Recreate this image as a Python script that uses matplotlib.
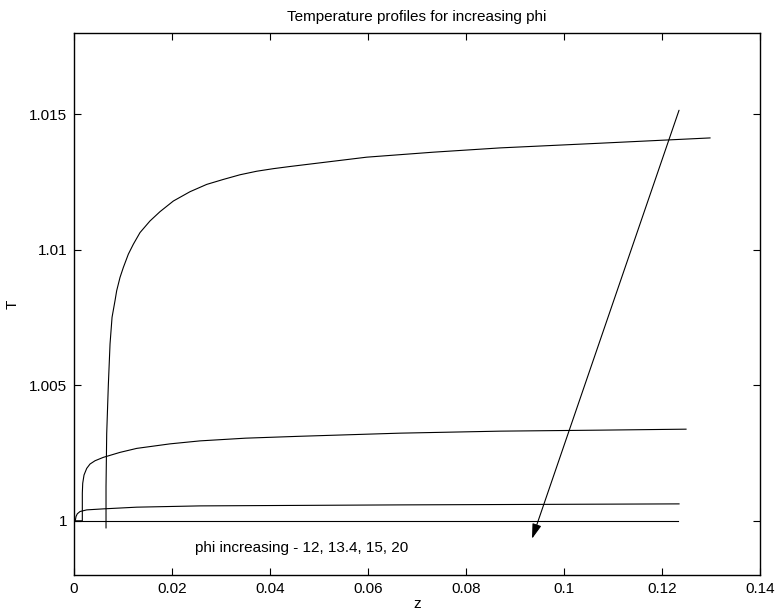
import matplotlib
matplotlib.use('Agg')
import matplotlib.pyplot as plt
from matplotlib.ticker import FuncFormatter

plt.rcParams['font.family'] = ['Liberation Sans', 'DejaVu Sans']

# Temperature profiles (z, T)
z_phi12 = [0.0, 0.1233]
T_phi12 = [1.0, 1.0]

z_phi134 = [0.0, 0.000265, 0.000408, 0.000673, 0.001224, 0.002592, 0.00598, 0.012796,
            0.025714, 0.06653, 0.123469]
T_phi134 = [1.0, 1.00001, 1.00016, 1.00026, 1.000343, 1.000404, 1.000441, 1.000504,
            1.000551, 1.000588, 1.000625]

z_phi15 = [0.0, 0.001694, 0.001694, 0.001775, 0.002041, 0.002592, 0.003265, 0.004286,
           0.00598, 0.009388, 0.012796, 0.019592, 0.025714, 0.035, 0.046122, 0.06653,
           0.086939, 0.107347, 0.1249]
T_phi15 = [1.0, 1.0, 1.001018, 1.001386, 1.001691, 1.001936, 1.002096, 1.002217,
           1.002342, 1.002526, 1.002673, 1.00284, 1.00295, 1.00305, 1.00312, 1.003235,
           1.003309, 1.003346, 1.003382]

z_phi20 = [0.00653, 0.00653, 0.00667, 0.0070, 0.00735, 0.00776, 0.008367, 0.008708,
           0.009388, 0.010068, 0.011088, 0.012109, 0.013469, 0.01551, 0.017551, 0.020272,
           0.023673, 0.027075, 0.030476, 0.033878, 0.037279, 0.04068, 0.044082,
           0.059735, 0.073326, 0.086939, 0.107347, 0.129796]
T_phi20 = [0.99974, 1.00126, 1.00322, 1.005, 1.00653, 1.00751, 1.008125, 1.008493,
           1.008983, 1.009351, 1.009841, 1.010208, 1.010637, 1.011066, 1.011409, 1.011801,
           1.012145, 1.012414, 1.012598, 1.01277, 1.0129, 1.012995, 1.013075,
           1.013419, 1.013603, 1.013761, 1.013934, 1.014129]

x_ticks = [0, 0.02, 0.04, 0.06, 0.08, 0.1, 0.12, 0.14]
y_ticks = [1.0, 1.005, 1.01, 1.015]

# arrow showing direction of increasing phi
arrow_start = (0.12347, 1.01515)
arrow_end = (0.09347, 0.99934)

fig = plt.figure(figsize=(7.8, 6.15), dpi=100)
ax = fig.add_axes([0.0949, 0.065, 0.8795, 0.8813])

for z, T in [(z_phi12, T_phi12), (z_phi134, T_phi134), (z_phi15, T_phi15), (z_phi20, T_phi20)]:
    ax.plot(z, T, color='black', lw=0.8)

ax.annotate('', xy=arrow_end, xytext=arrow_start,
            arrowprops=dict(arrowstyle='-|>,head_length=0.9,head_width=0.28',
                            color='black', lw=0.8, shrinkA=0, shrinkB=0))

ax.text(0.0247, 0.99901, 'phi increasing - 12, 13.4, 15, 20', fontsize=11,
        ha='left', va='center')

ax.set_xlim(0, 0.14)
ax.set_ylim(0.998, 1.018)
ax.set_xticks(x_ticks)
ax.set_yticks(y_ticks)
ax.xaxis.set_major_formatter(FuncFormatter(lambda v, p: '%g' % round(v, 4)))
ax.yaxis.set_major_formatter(FuncFormatter(lambda v, p: '%g' % round(v, 4)))
ax.tick_params(direction='in', length=5, width=0.8, top=True, right=True, labelsize=11, pad=5)
for s in ax.spines.values():
    s.set_linewidth(1.0)

ax.set_title('Temperature profiles for increasing phi', fontsize=11, pad=9)
ax.set_xlabel('z', fontsize=11)
ax.set_ylabel('T', fontsize=11)
ax.xaxis.set_label_coords(0.5, -0.04)
ax.yaxis.set_label_coords(-0.079, 0.5)

fig.savefig('out.png', dpi=100, facecolor='white')
